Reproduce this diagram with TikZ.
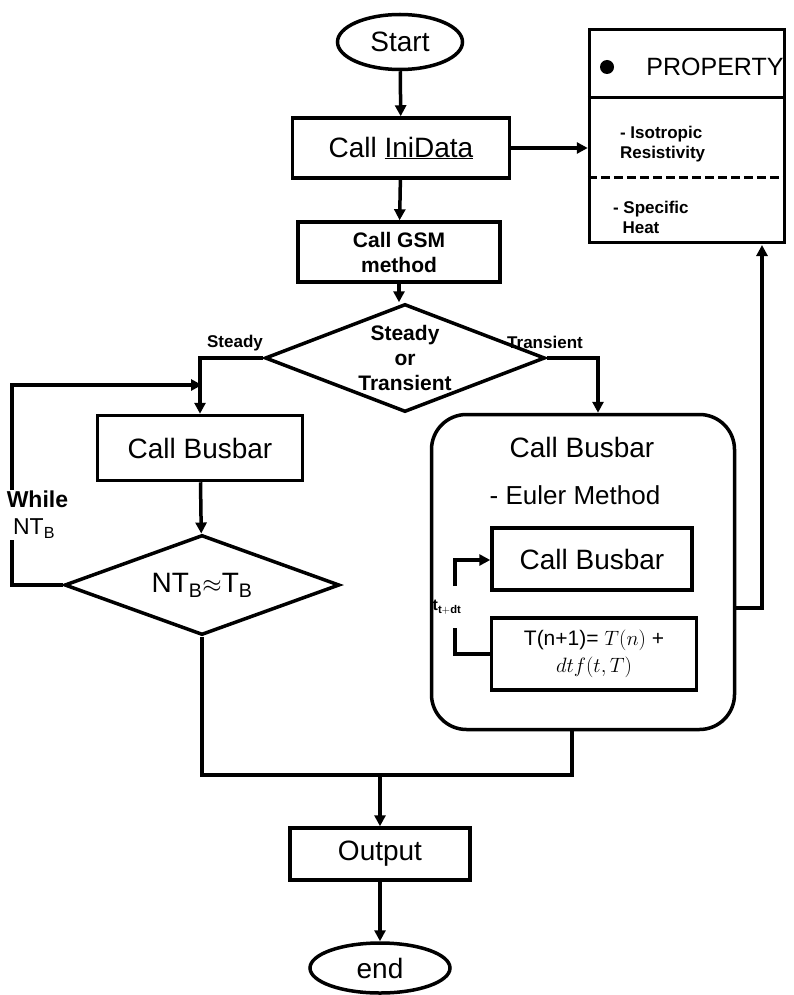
\documentclass[tikz,border=0pt]{standalone}
\usepackage{fontspec}
\setmainfont{Liberation Sans}
\usetikzlibrary{shapes.geometric,arrows.meta}
\begin{document}
\begin{tikzpicture}[x=1pt,y=-1pt,line width=3.5pt,
  box/.style={draw,rectangle,minimum width=#1,inner sep=0pt},
  arr/.style={-{Triangle[length=11pt,width=11pt]}},
  big/.style={font=\fontsize{28}{32}\selectfont},
  mid/.style={font=\fontsize{21}{25}\selectfont\bfseries},
  small/.style={font=\fontsize{17}{20}\selectfont\bfseries}]
\useasboundingbox (0,0) rectangle (794,995);
\node[draw,ellipse,minimum width=125,minimum height=55,big] (start) at (400,42) {Start};
\node[box=217,minimum height=60,big] (ini) at (401,148) {Call \underline{IniData}};
\node[box=202,minimum height=60,mid,align=center] (gsm) at (399,252) {Call GSM\\method};
\node[draw,diamond,aspect=2.6,minimum width=280,minimum height=108,inner sep=0pt,mid,align=center] (d1) at (405,358) {Steady\\or\\Transient};
\node[box=205,minimum height=65,big] (bus) at (200,448) {Call Busbar};
\node[draw,diamond,aspect=2.75,minimum width=275,minimum height=100,inner sep=0pt,big] (d2) at (202,585) {NT$_\mathrm{B}$$\approx$T$_\mathrm{B}$};
\node[draw,rounded corners=35,minimum width=303,minimum height=315] (rb) at (583,572) {};
\node[big] (rbt) at (582,447) {Call Busbar};
\node[font=\fontsize{26}{30}\selectfont] (eu) at (575,495) {- Euler Method};
\node[box=200,minimum height=62,big] (ib) at (592,559) {Call Busbar};
\node[box=205,minimum height=72,align=center,font=\fontsize{21}{27}\selectfont] (tb) at (594,654) {T(n+1)= $T(n)$ +\\ $dtf(t,T)$};
\node[box=180,minimum height=52,big] (out) at (380,854) {Output};
\node[draw,ellipse,minimum width=140,minimum height=50,big] (end) at (380,968) {end};
% property
\node[box=195,minimum height=213] (prop) at (687,136) {};
\draw ([yshift=-70]prop.north west) -- ([yshift=-70]prop.north east);
\draw[dash pattern=on 9pt off 4pt] ([yshift=-150]prop.north west) -- ([yshift=-150]prop.north east);
\fill (607,67) circle (7);
\node[font=\fontsize{25}{28}\selectfont] (pt) at (715,67) {PROPERTY};
\node[small,align=left,anchor=west] (iso) at (615,144) {- Isotropic\\Resistivity};
\node[small,align=left,anchor=west] (spe) at (608,217) {- Specific\\\ \ Heat};
% labels
\node[small] (st) at (235,343) {Steady};
\node[small] (tr) at (545,342) {Transient};
% connectors
\draw[arr] (start) -- (ini);
\draw[arr] (ini) -- (gsm);
\draw[arr] (gsm) -- (d1.north -| gsm.south);
\draw[arr] (ini.east) -- (prop.west |- ini.east);
\draw[arr] (d1.west) -| (bus.north);
\draw[arr] (bus) -- (d2);
\coordinate (lp) at (202,385);
\draw[arr] (d2.west) -- (12,585) -- (12,385) -- (lp);
\node[font=\fontsize{23}{27}\selectfont,align=left,anchor=west,fill=white,inner sep=1pt] (wh) at (4,515) {\textbf{While}\\\ NT$_\mathrm{B}$};
\draw[arr] (d1.east) -| (rb.north -| 598,0);
\draw (d2.south) -- (202,775) -- (572,775) -- (572,730);
\draw[arr] (380,775) -- (out.north);
\draw[arr] (out) -- (end);
\draw[arr] (rb.east |- 0,608) -- (762,608) -- (762,245);
\draw (tb.west) -- (455,654) -- (455,628);
\node[font=\fontsize{16}{18}\selectfont\bfseries] (tt) at (447,607) {t$_{\mathbf{t+dt}}$};
\draw[arr] (455,586) -- (455,560) -- (ib.west |- 0,560);
\end{tikzpicture}
\end{document}
